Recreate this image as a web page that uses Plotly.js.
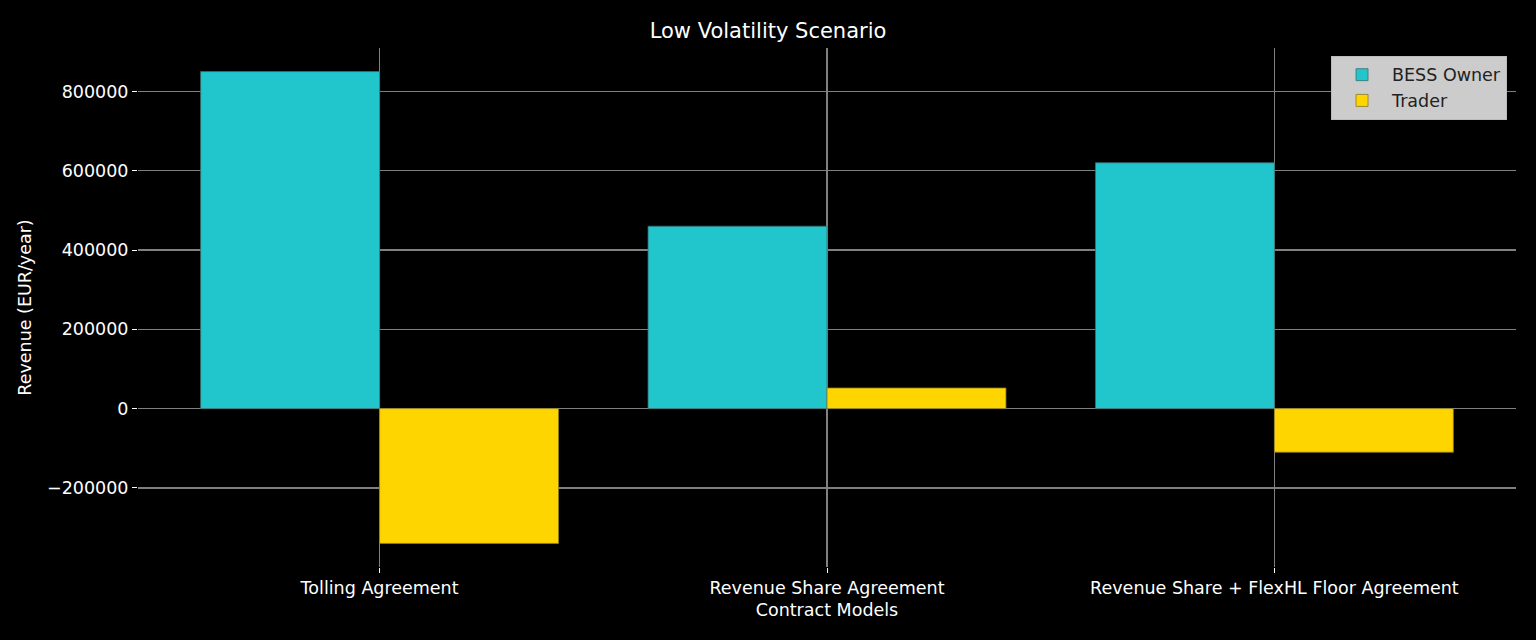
<!DOCTYPE html>
<html>
<head>
<meta charset="utf-8">
<script src="https://cdn.plot.ly/plotly-3.0.1.min.js"></script>
<style>html,body{margin:0;padding:0;background:#000;}#chart{width:1536px;height:640px;}</style>
</head>
<body>
<div id="chart"></div>
<script>
const categories = ["Tolling Agreement", "Revenue Share Agreement", "Revenue Share + FlexHL Floor Agreement"];
const bessOwner = [850000, 460000, 620000];
const trader = [-340000, 52000, -110000];
const yTicks = [-200000, 0, 200000, 400000, 600000, 800000];
const yTickText = ["\u2212200000", "0", "200000", "400000", "600000", "800000"];

const font = "DejaVu Sans, sans-serif";
const traces = [
  {type: "bar", name: "BESS Owner", x: [0, 1, 2], y: bessOwner,
   marker: {color: "#20c6cc", line: {color: "#3a6f70", width: 0.8}}},
  {type: "bar", name: "Trader", x: [0, 1, 2], y: trader,
   marker: {color: "#ffd500", line: {color: "#8a7a20", width: 0.8}}}
];
const layout = {
  width: 1536, height: 640,
  paper_bgcolor: "#000", plot_bgcolor: "#000",
  margin: {l: 138, r: 20, t: 48, b: 73},
  barmode: "group", bargap: 0.2, bargroupgap: 0,
  font: {family: font, color: "#fff", size: 17.5},
  title: {text: "Low Volatility Scenario", font: {family: font, size: 21, color: "#fff"}, x: 0.5, xanchor: "center", y: 0.952, yanchor: "middle"},
  xaxis: {
    type: "linear", range: [-0.54, 2.54], tickvals: [0, 1, 2], ticktext: categories,
    showgrid: true, gridcolor: "#808080", gridwidth: 1.2, zeroline: false,
    ticks: "outside", ticklen: 5, tickcolor: "#fff", tickwidth: 1,
    tickfont: {family: font, size: 17.5, color: "#fff"},
    showline: false, layer: "above traces",
    title: {text: "Contract Models", font: {family: font, size: 17.5, color: "#fff"}, standoff: 6}
  },
  yaxis: {
    range: [-399500, 909500], tickvals: yTicks, ticktext: yTickText,
    showgrid: true, gridcolor: "#808080", gridwidth: 1.2, zeroline: false,
    ticks: "outside", ticklen: 5, tickcolor: "#fff", tickwidth: 1,
    tickfont: {family: font, size: 17.5, color: "#fff"},
    showline: false, layer: "above traces",
    title: {text: "Revenue (EUR/year)", font: {family: font, size: 17.5, color: "#fff"}, standoff: 10}
  },
  legend: {
    x: 0.9935, y: 0.985, xanchor: "right", yanchor: "top",
    bgcolor: "#cccccc", bordercolor: "#bbbbbb", borderwidth: 1,
    font: {family: font, size: 17.5, color: "#222"},
    itemwidth: 50, tracegroupgap: 2
  },
  showlegend: true
};
Plotly.newPlot("chart", traces, layout, {displayModeBar: false, staticPlot: true});
</script>
</body>
</html>
